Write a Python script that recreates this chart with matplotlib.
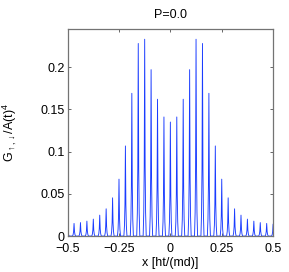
import numpy as np
import matplotlib
matplotlib.use("Agg")
import matplotlib.pyplot as plt

plt.rcParams['font.family'] = ['Liberation Sans', 'DejaVu Sans']
plt.rcParams['mathtext.fontset'] = 'custom'
plt.rcParams['mathtext.rm'] = 'Liberation Sans'
plt.rcParams['mathtext.it'] = 'Liberation Sans:italic'
plt.rcParams['mathtext.fallback'] = 'stixsans'

# Peak positions (x in units of ht/(md)) and peak heights
peak_k = np.arange(-16, 17)
peak_x = peak_k / 32.0
half_heights = [0.135, 0.141, 0.162, 0.197, 0.233, 0.228, 0.169, 0.1067,
                0.0674, 0.0453, 0.0323, 0.0248, 0.0201, 0.0177, 0.0160,
                0.0150, 0.0142]
peak_h = np.array(half_heights[:0:-1] + half_heights)

title = "P=0.0"
xlabel = "x [ht/(md)]"
ylabel = r"$\mathrm{G}_{\uparrow,\downarrow}/\mathrm{A(t)}^4$"
xticks = [-0.5, -0.25, 0, 0.25, 0.5]
xticklabels = ["\u22120.5", "\u22120.25", "0", "0.25", "0.5"]
yticks = [0, 0.05, 0.1, 0.15, 0.2]
yticklabels = ["0", "0.05", "0.1", "0.15", "0.2"]

# peak profile (shape of each spike)
prof_dx = np.array([-1.0, -0.6, -0.3, -0.12, 0.0, 0.12, 0.3, 0.6, 1.0]) * 0.0075
prof_f = np.array([0.0, 0.12, 0.35, 0.7, 1.0, 0.7, 0.35, 0.12, 0.0])

xs, ys = [], []
for c, h in zip(peak_x, peak_h):
    xs.extend(c + prof_dx)
    ys.extend(h * prof_f)
xs = np.array(xs)
ys = np.array(ys)
order = np.argsort(xs, kind='stable')
xs, ys = xs[order], ys[order]

fig = plt.figure(figsize=(2.89, 2.72), dpi=100)
ax = fig.add_axes([0.234, 0.132, 0.711, 0.761])
ax.plot(xs, ys, color='#1a3cff', lw=0.65)
ax.set_xlim(-0.5, 0.5)
ax.set_ylim(0, 0.245)
ax.set_xticks(xticks)
ax.set_xticklabels(xticklabels)
ax.set_yticks(yticks)
ax.set_yticklabels(yticklabels)
ax.tick_params(direction='in', top=True, right=True, labelsize=9,
               length=2.5, width=0.6, color='0.3', pad=2)
ax.tick_params(axis='x', pad=5)
for s in ax.spines.values():
    s.set_color('0.45')
    s.set_linewidth(0.9)
ax.set_title(title, fontsize=9, pad=8)
ax.set_xlabel(xlabel, fontsize=9)
ax.set_ylabel(ylabel, fontsize=9)
ax.xaxis.set_label_coords(0.5, -0.10)
ax.yaxis.set_label_coords(-0.235, 0.5)
fig.savefig("out.png", dpi=100)
